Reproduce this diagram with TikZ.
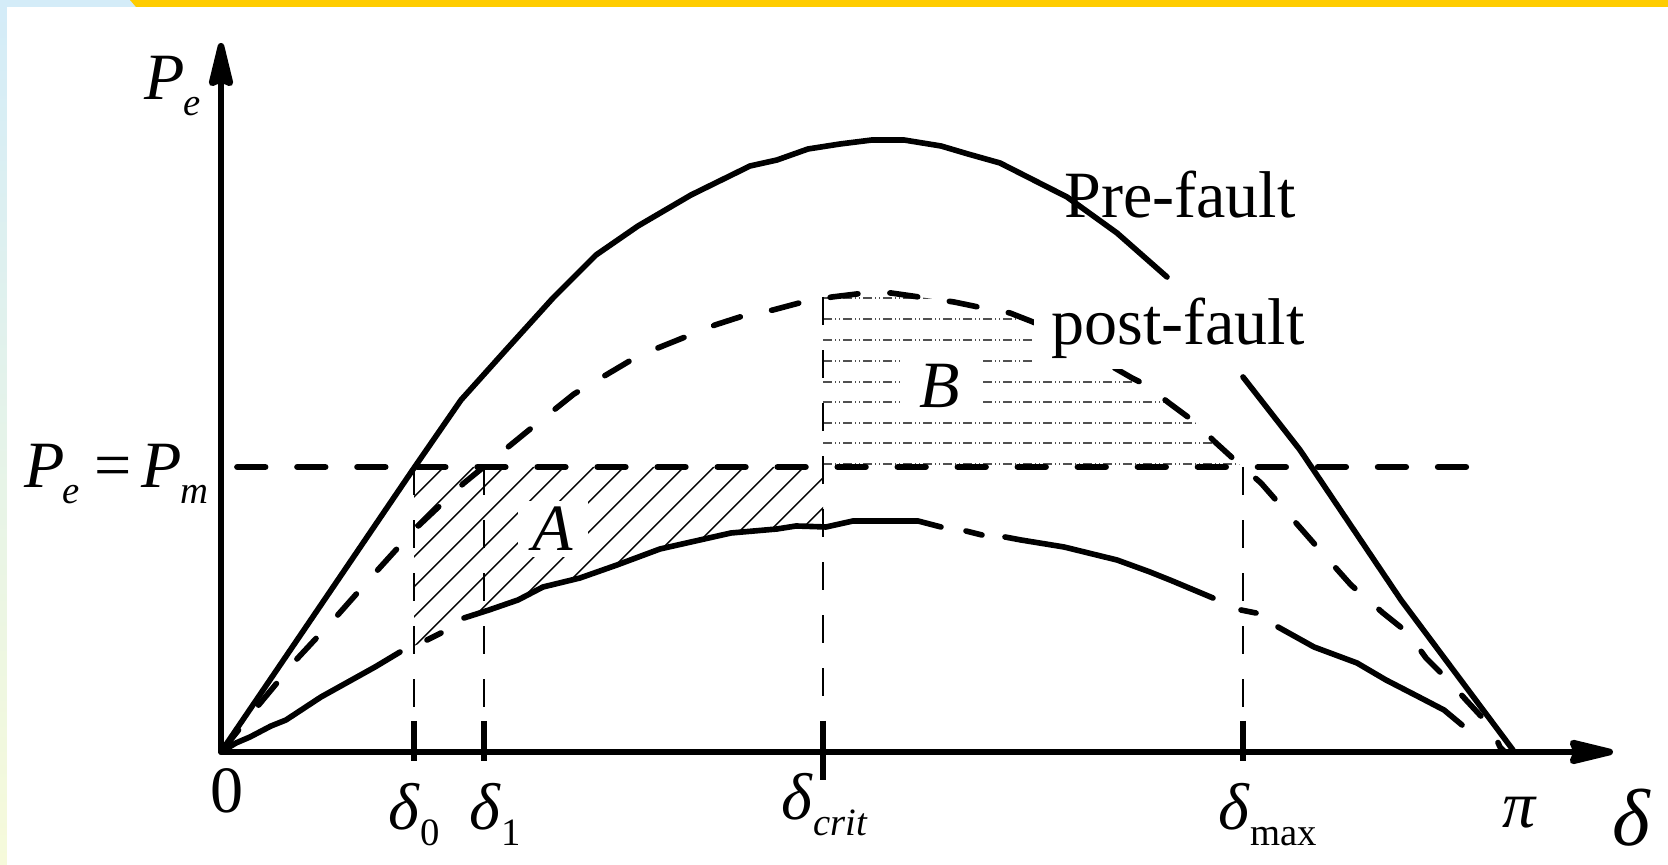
\documentclass[tikz,border=0pt]{standalone}
\usepackage{fontspec}
\setmainfont{Liberation Serif}
\usetikzlibrary{arrows.meta}
\definecolor{slideyellow}{RGB}{255,204,0}
\definecolor{slideblue}{RGB}{212,236,248}
\definecolor{slidecream}{RGB}{246,250,218}
\definecolor{rowgray}{RGB}{80,80,80}
\newcommand{\lowidx}[1]{\raisebox{-0.16cm}{\fontsize{11pt}{11pt}\selectfont #1}}
\newcommand{\powsym}[1]{\textit{P}\kern-0.02cm\lowidx{\textit{#1}}}

\begin{document}
\begin{tikzpicture}[x=0.01cm, y=-0.01cm,
    font=\fontsize{18.8pt}{22pt}\selectfont,
    axis/.style={line width=1.9pt, -{Stealth[length=0.56cm, width=0.26cm, inset=0.05cm, round]}},
    curve/.style={line width=1.6pt, line join=round, line cap=round},
    postcurve/.style={curve, dash pattern=on 0.28cm off 0.32cm},
    level/.style={line width=1.8pt, line cap=round, dash pattern=on 0.28cm off 0.32cm},
    guide/.style={line width=0.7pt, dash pattern=on 0.28cm off 0.25cm},
    tickmark/.style={line width=1.8pt},
    hatch/.style={line width=0.4pt},
    rowline/.style={line width=0.5pt, rowgray, dash pattern=on 0.09cm off 0.03cm on 0.01cm off 0.03cm on 0.01cm off 0.03cm},
    lbl/.style={inner sep=0pt}]
  \useasboundingbox (0,0) rectangle (1668,865);
  % slide frame
  \fill[slideblue] (0,0) rectangle (136,7);
  \fill[slideyellow] (130,0) -- (1668,0) -- (1668,7) -- (136,7) -- cycle;
  \shade[top color=slideblue, bottom color=slidecream] (0,7) rectangle (7,865);

  \coordinate (O) at (221,752);
  \coordinate (ytip) at (221,43);
  \coordinate (xtip) at (1613,752);
  \coordinate (pmend) at (1466,467);

  % area A
  \begin{scope}
    \clip (414,467) -- (823,467) -- (823,527) -- (796,526) -- (777,529) -- (731,533) -- (691,542)
      -- (660,549) -- (617,565) -- (580,578) -- (543,587) -- (518,600) -- (489,610) -- (464,618)
      -- (441,633) -- (427,640) -- (414,646) -- cycle;
    \foreach \c in {234,264,...,864}
      \draw[hatch] (\c,467) -- ++(-200,200);
  \end{scope}
  % area B
  \begin{scope}
    \clip (823,467) -- (823,297) -- (832,297) -- (865,293) -- (891,293) -- (926,298) -- (954,302)
      -- (983,308) -- (1010,313) -- (1033,322) -- (1080,348) -- (1132,378) -- (1146,385)
      -- (1169,403) -- (1196,423) -- (1215,442) -- (1240,465) -- (1243,467) -- cycle;
    \foreach \r in {298,319,340,361,382,402,423,443,464}
      \draw[rowline] (823,\r) -- (1250,\r);
  \end{scope}

  % guides
  \draw[guide] (414,467) -- (414,752);
  \draw[guide] (484,467) -- (484,752);
  \draw[guide] (823,297) -- (823,752);
  \draw[guide] (1243,467) -- (1243,752);
  \draw[level] (pmend) -- (O |- pmend);

  % pre-fault
  \draw[curve] (O) -- (414,468) -- (461,400) -- (505,351) -- (553,298) -- (596,255) -- (638,226)
    -- (691,195) -- (750,166) -- (777,160) -- (808,149) -- (840,144) -- (872,140) -- (904,140)
    -- (941,146) -- (968,154) -- (1000,163) -- (1067,197) -- (1117,233) -- (1167,277);
  \draw[curve] (1243,377) -- (1300,450) -- (1401,600) -- (1513,750);
  % post-fault
  \draw[postcurve] (O) -- (257,707) -- (296,660) -- (336,617) -- (375,573) -- (414,530) -- (464,483)
    -- (529,430) -- (574,394) -- (638,356) -- (715,325) -- (746,315) -- (773,310) -- (803,302)
    -- (832,297) -- (865,293) -- (891,293) -- (926,298) -- (954,302) -- (983,308) -- (1010,313)
    -- (1033,322) -- (1080,348) -- (1132,378) -- (1146,385) -- (1169,403) -- (1196,423)
    -- (1215,442) -- (1238,463) -- (1261,483) -- (1282,507) -- (1318,548) -- (1351,585)
    -- (1383,613) -- (1408,633) -- (1426,658) -- (1448,680) -- (1466,700) -- (1491,727)
    -- (1500,747) -- (1505,752);
  % during fault
  \draw[curve] (O) -- (236,743) -- (250,737) -- (271,726) -- (286,720) -- (321,697) -- (357,677)
    -- (375,667) -- (400,652);
  \draw[curve] (427,640) -- (441,633);
  \draw[curve] (464,618) -- (489,610) -- (518,600) -- (543,587) -- (580,578) -- (617,565) -- (660,549)
    -- (691,542) -- (731,533) -- (777,529) -- (796,526) -- (826,527) -- (853,521) -- (918,521)
    -- (941,527);
  \draw[curve] (966,531) -- (982,535);
  \draw[curve] (1005,537) -- (1021,540) -- (1064,547) -- (1117,560) -- (1150,572) -- (1170,580)
    -- (1213,598);
  \draw[curve] (1241,610) -- (1256,613);
  \draw[curve] (1278,627) -- (1314,647) -- (1357,663) -- (1386,680) -- (1419,697) -- (1444,710)
    -- (1462,725);

  % axes
  \draw[axis] (O) -- (ytip);
  \draw[axis] (O) -- (xtip);
  \draw[tickmark] (414,721) -- (414,761);
  \draw[tickmark] (484,721) -- (484,761);
  \draw[tickmark] (823,721) -- (823,780);
  \draw[tickmark] (1243,721) -- (1243,761);

  % labels
  \node[lbl, anchor=base west] (pe) at (144,100) {\powsym{e}};
  \node[lbl, anchor=base east] (pm) at (209,488)
    {\powsym{e}\hspace{0.15cm}=\hspace{0.1cm}\powsym{m}};
  \node[lbl, anchor=base] (zero) at (227,813) {0};
  \node[lbl, anchor=base] (d0) at (414,830) {\textit{δ}\lowidx{0}};
  \node[lbl, anchor=base] (d1) at (495,830) {\textit{δ}\lowidx{1}};
  \node[lbl, anchor=base] (dcrit) at (825,820) {\textit{δ}\lowidx{\textit{crit}}};
  \node[lbl, anchor=base] (dmax) at (1268,830) {\textit{δ}\lowidx{max}};
  \node[lbl, anchor=base] (pi) at (1520,828) {\textit{π}};
  \node[lbl, anchor=base, font=\fontsize{23pt}{26pt}\selectfont] (delta) at (1632,846) {\textit{δ}};
  \node[fill=white, inner xsep=0.15cm, inner ysep=0.06cm] (areaA) at (553,529) {\textit{A}};
  \node[fill=white, inner xsep=0.2cm, inner ysep=0.12cm] (areaB) at (940,386) {\textit{B}};
  \node[lbl, anchor=base] (pre) at (1180,218) {Pre-fault};
  \node[fill=white, anchor=base, inner xsep=0.17cm, inner ysep=0.1cm] (post) at (1178,345) {post-fault};
\end{tikzpicture}
\end{document}
